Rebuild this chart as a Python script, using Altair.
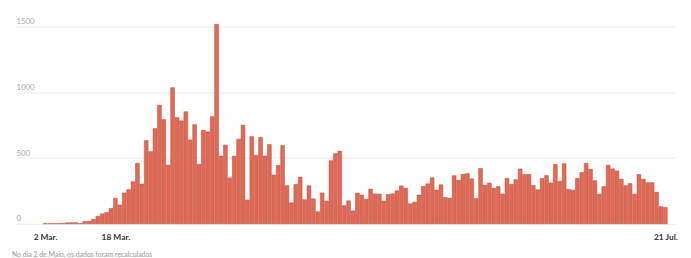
import altair as alt
import pandas as pd

# Daily new cases, 2 Mar. - 21 Jul.
march = [2, 2, 2, 3, 4, 8, 9, 9, 2, 18, 19, 34, 57, 76, 86, 117, 194, 143, 235, 260,
         320, 460, 302, 633, 549, 724, 902, 792, 446, 1035]
april = [808, 783, 852, 638, 754, 452, 712, 699, 815, 1516, 515, 598, 349, 514, 643,
         750, 181, 663, 521, 657, 516, 603, 371, 444, 595, 290, 160, 300, 355, 183]
may = [290, 190, 92, 235, 173, 480, 533, 553, 138, 175, 98, 234, 219, 187, 264, 227,
       226, 173, 223, 228, 252, 288, 271, 152, 165, 219, 285, 304, 350, 257, 297]
june = [200, 195, 366, 331, 377, 382, 342, 192, 421, 294, 310, 270, 283, 227, 346,
        300, 336, 417, 375, 377, 292, 259, 345, 367, 311, 451, 323, 457, 262, 256]
july = [345, 390, 460, 415, 328, 225, 283, 445, 418, 402, 340, 290, 306, 225, 375,
        339, 313, 313, 240, 131, 125]

values = march + april + may + june + july
days = list(range(len(values)))

tick_days = [0, 16, 141]
tick_labels = ["2 Mar.", "18 Mar.", "21 Jul."]
y_ticks = [0, 500, 1000, 1500]
footnote = "No dia 2 de Maio, os dados foram recalculados"

df = pd.DataFrame({"day": days, "cases": values})

label_expr = " : ".join(
    f"datum.value == {d} ? '{l}'" for d, l in zip(tick_days, tick_labels)
) + " : ''"

chart = alt.Chart(df).mark_bar(
    width=3.9, fill="#e06a56", stroke="#bd4d3c", strokeWidth=0.5
).encode(
    x=alt.X(
        "day:Q",
        scale=alt.Scale(domain=[-5.5, 142.1], nice=False, zero=False),
        axis=alt.Axis(
            values=tick_days, labelExpr=label_expr, grid=False, ticks=False,
            domain=False, labelPadding=9, labelFontSize=8.5, labelColor="#333333",
            labelFontWeight="bold", labelFont="Lato", title=None,
        ),
    ),
    y=alt.Y(
        "cases:Q",
        scale=alt.Scale(domain=[0, 1560], nice=False),
        axis=alt.Axis(
            values=y_ticks, format="d", grid=True, gridColor="#ececec", ticks=False,
            domain=False, labelAlign="left", labelBaseline="bottom",
            labelPadding=0, labelOffset=-1, labelColor="#aaaaaa",
            labelFontSize=8, labelFont="Lato", title=None,
        ),
    ),
).properties(
    width=668,
    height=208,
    padding={"left": 4, "top": 7, "right": 5, "bottom": 2},
    title=alt.TitleParams(
        footnote, orient="bottom", anchor="start", fontSize=7, color="#999999",
        fontWeight="normal", font="Lato", offset=10, dx=-4,
    ),
).configure_view(stroke=None)

chart.save("out.html", embed_options={"renderer": "svg", "actions": False})
